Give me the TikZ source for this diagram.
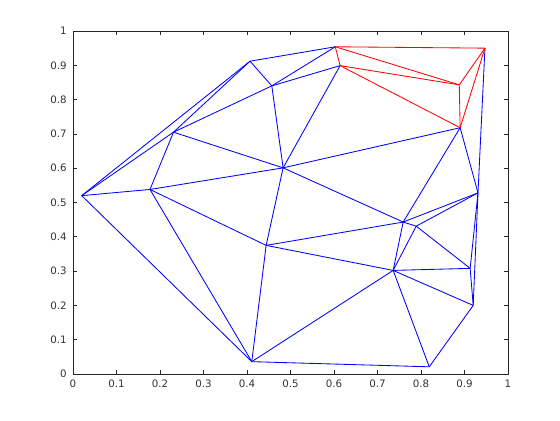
\documentclass[tikz,border=0pt]{standalone}
\usepackage{fontspec}
\setmainfont{DejaVu Sans}

\begin{document}
\begin{tikzpicture}[x=10.875cm, y=8.575cm, line width=0.6pt]
  \useasboundingbox (-1.825cm,-1.15cm) rectangle (12.175cm,9.35cm);
  \tikzset{axisline/.style={draw=black!85, line width=0.5pt},
           ticklabel/.style={inner sep=0pt, text=black!80, font=\fontsize{7.3}{8}\selectfont}}

  % 坐标框与刻度
  \draw[axisline] (0,0) rectangle (1,1);
  \foreach \i in {1,...,9} {
    \draw[axisline] (\i/10,0) -- ++(0,0.1cm);
    \draw[axisline] (\i/10,1) -- ++(0,-0.1cm);
    \draw[axisline] (0,\i/10) -- ++(0.1cm,0);
    \draw[axisline] (1,\i/10) -- ++(-0.1cm,0);
    \node[ticklabel, anchor=north] at ([yshift=-0.13cm]\i/10,0) {0.\i};
    \node[ticklabel, anchor=east] at ([xshift=-0.15cm]0,\i/10) {0.\i};
  }
  \node[ticklabel, anchor=north] at ([yshift=-0.13cm]0,0) {0};
  \node[ticklabel, anchor=north] at ([yshift=-0.13cm]1,0) {1};
  \node[ticklabel, anchor=east] at ([xshift=-0.15cm]0,0) {0};
  \node[ticklabel, anchor=east] at ([xshift=-0.15cm]0,1) {1};

  % 顶点
  \coordinate (P1) at (0.020,0.520);
  \coordinate (P2) at (0.177,0.538);
  \coordinate (P3) at (0.231,0.705);
  \coordinate (P4) at (0.407,0.912);
  \coordinate (P5) at (0.457,0.840);
  \coordinate (P6) at (0.603,0.954);
  \coordinate (P7) at (0.614,0.899);
  \coordinate (P8) at (0.947,0.950);
  \coordinate (P9) at (0.888,0.843);
  \coordinate (P10) at (0.890,0.718);
  \coordinate (P11) at (0.483,0.601);
  \coordinate (P12) at (0.931,0.528);
  \coordinate (P13) at (0.759,0.443);
  \coordinate (P14) at (0.789,0.431);
  \coordinate (P15) at (0.444,0.375);
  \coordinate (P16) at (0.736,0.302);
  \coordinate (P17) at (0.913,0.308);
  \coordinate (P18) at (0.920,0.200);
  \coordinate (P19) at (0.411,0.036);
  \coordinate (P20) at (0.819,0.021);

  % 三角剖分（蓝）
  \foreach \a/\b in {1/2, 1/3, 1/4, 1/19, 2/3, 2/11, 2/15, 2/19,
                     3/4, 3/5, 3/11, 4/5, 4/6, 5/6, 5/7, 5/11, 7/11,
                     8/12, 10/11, 10/12, 10/13, 11/13, 11/15,
                     12/13, 12/14, 12/17, 12/18, 13/14, 13/15, 13/16,
                     14/16, 14/17, 15/16, 15/19, 16/17, 16/18, 16/19, 16/20,
                     17/18, 18/20, 19/20}
    \draw[blue] (P\a) -- (P\b);

  % 选中区域（红）
  \foreach \a/\b in {6/7, 6/8, 6/9, 7/9, 7/10, 8/9, 8/10, 9/10}
    \draw[red] (P\a) -- (P\b);
\end{tikzpicture}
\end{document}
